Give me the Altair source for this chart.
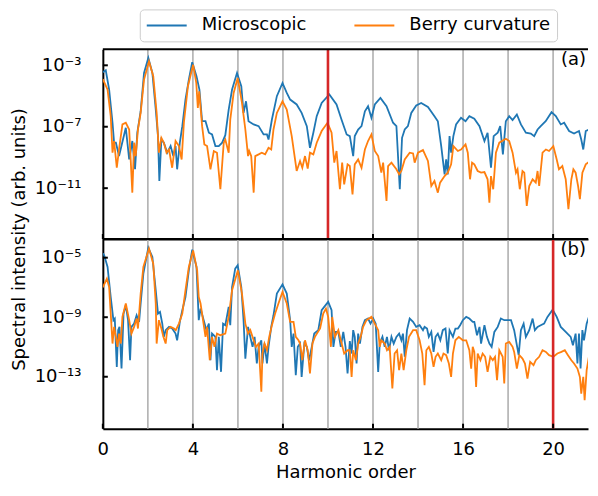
import altair as alt
import numpy as np
import pandas as pd

# ---------------- data (harmonic order, log10 of spectral intensity) ----------------
micro_a_h = [0.0,0.13,0.28,0.43,0.50,0.58,0.72,1.02,1.17,1.31,
             1.43,1.53,1.68,1.83,2.02,2.20,2.35,2.45,2.51,2.60,
             2.71,2.86,3.01,3.13,3.23,3.30,3.42,3.53,3.67,3.82,
             3.97,4.16,4.29,4.41,4.56,4.71,4.85,5.00,5.15,5.30,
             5.44,5.59,5.74,5.96,6.15,6.25,6.36,6.47,6.70,6.92,
             7.14,7.29,7.36,7.51,7.73,7.98,8.17,8.32,8.61,8.83,
             9.06,9.20,9.35,9.50,9.72,10.06,10.38,10.60,10.83,10.97,
             11.12,11.19,11.34,11.49,11.64,11.78,11.93,12.08,12.33,12.60,
             12.89,13.04,13.19,13.29,13.41,13.55,13.70,13.92,14.14,14.44,
             14.73,14.88,15.03,15.18,15.25,15.32,15.40,15.47,15.57,15.69,
             15.91,16.11,16.28,16.50,16.73,16.95,17.09,17.24,17.36,17.54,
             17.65,17.77,17.90,18.05,18.20,18.39,18.57,18.79,19.01,19.16,
             19.31,19.45,19.67,19.93,20.12,20.34,20.49,20.71,20.93,21.15,
             21.25,21.34,21.45,21.59,21.74,21.89,22.0]
micro_a_log = [-3.45,-3.32,-4.58,-6.74,-8.04,-8.04,-8.91,-7.07,-9.13,-7.93,
               -9.77,-7.39,-5.99,-3.50,-2.52,-3.50,-5.88,-7.61,-10.53,-7.83,
               -8.04,-8.69,-8.26,-8.91,-8.26,-9.77,-8.04,-6.96,-5.23,-3.93,
               -2.80,-3.71,-4.58,-6.64,-6.64,-7.39,-7.50,-8.26,-8.26,-8.04,
               -7.55,-5.88,-4.58,-3.50,-4.36,-6.10,-5.34,-6.64,-6.85,-6.96,
               -7.50,-7.50,-7.83,-6.53,-5.01,-4.15,-4.80,-5.23,-5.55,-6.10,
               -6.96,-8.37,-7.39,-6.31,-5.45,-4.90,-5.55,-6.53,-7.50,-7.61,
               -8.91,-7.61,-7.18,-6.96,-5.99,-5.66,-6.42,-5.55,-5.12,-5.66,
               -6.74,-6.96,-11.07,-7.72,-7.18,-6.96,-6.10,-5.62,-5.45,-5.71,
               -6.31,-6.64,-8.26,-10.10,-9.13,-10.10,-7.61,-8.69,-7.61,-6.85,
               -6.42,-6.64,-6.31,-6.48,-6.96,-7.93,-7.39,-9.67,-7.61,-7.39,
               -6.96,-8.80,-6.64,-6.31,-6.57,-6.20,-6.85,-7.39,-7.44,-7.61,
               -7.18,-6.96,-6.64,-6.05,-6.31,-6.85,-6.74,-7.28,-7.44,-7.28,
               -7.83,-8.48,-7.28,-7.18,-6.74,-6.96,-7.00]

berry_a_h = [0.0,0.21,0.35,0.43,0.50,0.62,0.72,0.87,1.02,1.17,
             1.31,1.39,1.46,1.56,1.68,1.83,2.05,2.24,2.39,2.49,
             2.60,2.71,2.83,2.94,3.08,3.23,3.38,3.50,3.60,3.78,
             4.01,4.15,4.22,4.28,4.41,4.51,4.63,4.78,4.93,5.07,
             5.22,5.37,5.44,5.59,5.66,5.81,5.99,6.18,6.33,6.45,
             6.50,6.59,6.70,6.77,6.92,7.06,7.21,7.36,7.48,7.58,
             7.73,7.98,8.17,8.39,8.61,8.76,8.86,8.98,9.10,9.20,
             9.35,9.50,9.72,9.98,10.16,10.28,10.38,10.53,10.63,10.72,
             10.87,10.97,11.09,11.19,11.34,11.49,11.64,11.78,11.93,12.08,
             12.23,12.37,12.45,12.60,12.67,12.82,13.04,13.16,13.26,13.41,
             13.63,13.78,13.85,14.00,14.22,14.44,14.59,14.73,14.88,14.98,
             15.18,15.32,15.47,15.57,15.77,15.91,16.11,16.21,16.31,16.40,
             16.50,16.65,16.80,16.95,17.09,17.17,17.24,17.34,17.46,17.61,
             17.90,18.05,18.20,18.35,18.42,18.52,18.64,18.72,18.83,18.94,
             19.09,19.23,19.31,19.38,19.53,19.68,19.82,20.01,20.16,20.26,
             20.41,20.56,20.68,20.81,20.90,21.00,21.11,21.19,21.30,21.45,
             21.64,21.74,21.89,22.0]
berry_a_log = [-3.90,-4.58,-6.31,-8.69,-7.93,-9.67,-8.48,-6.85,-6.74,-7.18,
               -11.29,-8.04,-8.91,-7.18,-6.10,-3.93,-2.74,-3.71,-6.10,-8.69,
               -7.72,-8.04,-8.69,-8.48,-9.67,-7.93,-8.26,-9.13,-6.74,-4.36,
               -2.96,-4.15,-5.77,-4.69,-6.96,-8.15,-8.26,-9.77,-8.58,-8.69,
               -11.07,-8.04,-7.83,-8.69,-6.53,-4.80,-3.82,-5.45,-7.18,-8.91,
               -8.58,-8.91,-11.29,-8.91,-8.80,-8.69,-8.80,-8.37,-8.48,-7.18,
               -6.10,-5.34,-5.88,-7.61,-9.88,-9.23,-9.67,-8.91,-9.73,-8.69,
               -8.80,-8.04,-7.28,-6.74,-7.39,-9.34,-8.58,-11.07,-9.34,-10.75,
               -9.45,-9.56,-11.40,-9.45,-9.13,-9.67,-8.48,-7.93,-7.50,-8.58,
               -8.91,-9.99,-9.34,-11.83,-9.56,-9.34,-9.77,-10.10,-9.88,-9.13,
               -8.69,-8.74,-9.34,-8.69,-8.52,-9.23,-10.86,-10.53,-11.29,-10.64,
               -10.21,-9.99,-9.45,-8.26,-8.58,-8.48,-8.15,-8.69,-10.42,-9.34,
               -9.45,-9.88,-9.99,-9.95,-10.42,-11.94,-10.21,-11.07,-8.69,-8.04,
               -7.78,-7.93,-8.69,-9.99,-9.77,-11.07,-9.88,-9.99,-12.16,-10.86,
               -10.42,-10.64,-9.88,-10.86,-8.69,-8.48,-8.58,-8.26,-9.13,-9.77,
               -9.56,-10.42,-12.37,-10.42,-9.77,-9.99,-10.86,-11.72,-9.99,-9.45,
               -9.23,-8.91,-9.34,-9.40]

micro_b_h = [0.0,0.06,0.21,0.35,0.47,0.53,0.62,0.68,0.74,0.83,
             0.92,1.02,1.12,1.21,1.27,1.39,1.50,1.61,1.68,1.80,
             2.02,2.20,2.35,2.45,2.54,2.64,2.71,2.79,2.94,3.08,
             3.23,3.30,3.42,3.53,3.67,3.82,3.97,4.16,4.26,4.34,
             4.48,4.60,4.71,4.78,4.85,5.00,5.07,5.15,5.25,5.34,
             5.44,5.59,5.66,5.74,5.88,5.99,6.15,6.25,6.33,6.45,
             6.55,6.65,6.74,6.84,6.92,7.04,7.09,7.18,7.29,7.36,
             7.48,7.58,7.73,7.98,8.17,8.32,8.39,8.47,8.57,8.66,
             8.76,8.83,8.95,9.06,9.16,9.28,9.39,9.57,9.72,10.01,
             10.16,10.24,10.34,10.46,10.57,10.68,10.78,10.87,10.97,11.05,
             11.12,11.19,11.27,11.34,11.42,11.53,11.64,11.78,11.89,12.01,
             12.12,12.23,12.30,12.42,12.52,12.62,12.71,12.82,12.92,13.04,
             13.16,13.26,13.33,13.41,13.51,13.63,13.78,13.92,14.07,14.22,
             14.29,14.40,14.48,14.59,14.69,14.78,14.88,14.99,15.10,15.22,
             15.32,15.40,15.55,15.66,15.77,15.87,15.99,16.14,16.28,16.43,
             16.50,16.62,16.73,16.80,16.95,17.06,17.17,17.27,17.39,17.54,
             17.68,17.83,17.98,18.13,18.27,18.47,18.57,18.69,18.79,18.94,
             19.09,19.19,19.31,19.45,19.60,19.75,19.98,20.16,20.34,20.56,
             20.78,20.88,21.00,21.08,21.15,21.22,21.30,21.37,21.49,21.59,
             21.74,21.89,22.0]
micro_b_log = [-4.70,-4.84,-5.62,-7.64,-9.20,-9.09,-12.34,-9.87,-9.65,-12.45,
               -8.76,-8.20,-9.20,-11.89,-9.65,-9.43,-8.87,-9.31,-8.08,-6.07,
               -4.33,-4.95,-7.19,-8.76,-8.64,-9.43,-10.32,-9.87,-9.65,-9.76,
               -10.10,-10.55,-9.31,-8.53,-7.64,-5.85,-4.46,-5.62,-9.20,-8.42,
               -9.20,-9.87,-9.43,-11.89,-10.10,-10.32,-12.56,-10.32,-12.67,-9.43,
               -9.54,-8.31,-9.54,-6.97,-5.74,-5.51,-6.97,-9.20,-11.78,-9.65,
               -10.32,-10.99,-10.32,-12.11,-10.99,-10.55,-12.11,-10.77,-12.11,-10.99,
               -9.65,-8.87,-7.41,-6.79,-7.41,-9.20,-10.99,-10.10,-12.89,-10.99,
               -10.77,-13.01,-10.77,-10.99,-11.89,-10.99,-10.10,-9.87,-8.53,-7.97,
               -8.53,-10.99,-9.99,-9.99,-10.99,-9.99,-10.99,-12.78,-10.60,-11.44,
               -9.87,-10.32,-12.11,-10.10,-10.77,-9.65,-9.20,-9.09,-9.43,-9.09,
               -9.43,-12.67,-10.77,-10.32,-10.99,-10.32,-11.22,-10.32,-10.77,-10.32,
               -10.10,-10.55,-10.10,-11.66,-9.87,-9.09,-9.31,-9.65,-9.54,-9.87,
               -9.65,-9.76,-10.32,-9.99,-11.33,-10.32,-10.10,-10.55,-9.87,-9.76,
               -11.44,-9.87,-10.32,-9.76,-9.76,-9.54,-9.20,-8.98,-9.09,-9.31,
               -9.31,-10.21,-9.65,-10.77,-9.54,-10.32,-10.77,-10.99,-9.99,-9.65,
               -9.09,-9.20,-9.20,-9.20,-9.87,-11.55,-9.87,-9.43,-10.32,-9.87,
               -9.09,-9.87,-9.65,-9.54,-9.43,-8.98,-8.49,-8.98,-9.65,-9.99,
               -10.32,-10.88,-10.10,-12.11,-10.10,-12.45,-9.87,-10.55,-9.43,-8.98,
               -8.87,-8.64,-8.50]

berry_b_h = [0.0,0.18,0.28,0.35,0.43,0.50,0.58,0.65,0.72,0.80,
             0.87,1.02,1.17,1.27,1.39,1.50,1.56,1.68,1.80,2.05,
             2.24,2.35,2.39,2.49,2.60,2.69,2.79,2.86,3.01,3.16,
             3.24,3.38,3.53,3.67,3.82,4.01,4.19,4.26,4.34,4.45,
             4.56,4.63,4.75,4.85,4.96,5.07,5.22,5.44,5.59,5.74,
             6.00,6.18,6.33,6.45,6.55,6.70,6.80,6.92,7.04,7.09,
             7.18,7.29,7.39,7.51,7.65,7.80,7.98,8.17,8.32,8.47,
             8.57,8.69,8.76,8.86,8.98,9.10,9.20,9.31,9.42,9.65,
             9.79,9.91,10.01,10.13,10.19,10.31,10.46,10.57,10.72,10.87,
             10.97,11.05,11.12,11.24,11.34,11.45,11.56,11.71,11.93,12.08,
             12.23,12.30,12.37,12.52,12.62,12.74,12.86,12.96,13.07,13.16,
             13.26,13.36,13.48,13.60,13.78,13.92,14.07,14.19,14.29,14.37,
             14.48,14.59,14.69,14.78,14.88,15.03,15.13,15.25,15.37,15.47,
             15.55,15.66,15.81,15.99,16.14,16.28,16.36,16.43,16.50,16.58,
             16.65,16.77,16.87,16.98,17.09,17.21,17.32,17.42,17.51,17.61,
             17.76,17.83,17.90,18.05,18.20,18.27,18.39,18.50,18.64,18.75,
             18.86,18.98,19.13,19.23,19.38,19.53,19.68,19.82,20.01,20.19,
             20.37,20.52,20.66,20.81,20.93,21.08,21.19,21.25,21.34,21.40,
             21.49,21.59,21.74,21.89,22.0]
berry_b_log = [-7.00,-6.41,-6.97,-8.76,-10.77,-9.65,-10.32,-10.99,-10.10,-10.77,
               -8.98,-8.08,-9.20,-10.10,-9.65,-9.09,-9.76,-7.41,-5.62,-4.39,
               -5.40,-8.08,-10.77,-9.20,-9.76,-10.32,-10.77,-9.87,-9.65,-9.76,
               -9.87,-9.43,-8.76,-7.19,-5.62,-4.51,-5.85,-7.64,-8.08,-9.20,
               -10.32,-9.65,-11.89,-10.32,-10.99,-10.10,-10.21,-10.10,-8.98,-7.19,
               -5.85,-7.41,-9.43,-10.10,-9.87,-10.55,-10.99,-10.77,-14.01,-11.44,
               -10.77,-11.22,-10.32,-9.54,-8.76,-8.08,-7.30,-8.08,-9.31,-9.31,
               -10.32,-10.55,-10.77,-11.89,-10.55,-11.22,-12.78,-10.77,-10.32,-9.76,
               -8.76,-8.42,-8.98,-10.99,-8.98,-10.32,-9.87,-10.55,-11.44,-11.22,
               -11.22,-13.01,-11.22,-11.89,-10.77,-10.32,-9.65,-9.20,-8.98,-9.43,
               -9.87,-10.99,-10.55,-10.77,-11.22,-10.99,-13.79,-11.44,-11.22,-12.56,
               -11.44,-12.56,-11.22,-10.32,-9.87,-9.87,-10.55,-11.44,-13.57,-11.22,
               -10.99,-11.44,-12.34,-11.66,-11.44,-11.89,-11.44,-11.55,-12.11,-13.01,
               -11.44,-10.55,-10.32,-10.55,-10.55,-11.22,-12.45,-10.99,-11.33,-13.68,
               -11.44,-11.89,-11.44,-11.66,-12.67,-11.66,-11.89,-11.66,-13.23,-11.22,
               -11.66,-13.45,-10.77,-10.66,-10.99,-11.33,-12.45,-11.55,-11.78,-12.11,
               -13.12,-12.00,-12.22,-11.89,-11.66,-11.22,-11.33,-11.55,-11.66,-11.44,
               -11.33,-11.22,-11.55,-11.89,-12.11,-12.45,-13.01,-14.13,-13.01,-14.57,
               -12.56,-11.66,-10.99,-10.88,-10.90]

series_names = ["Microscopic", "Berry curvature"]
series_colors = ["#1f77b4", "#ff7f0e"]
guide_orders = [2, 4, 6, 8, 10, 12, 14, 16, 18, 20]
x_ticks = [0, 4, 8, 12, 16, 20]
y_ticks_a = [-11, -7, -3]
y_ticks_b = [-13, -9, -5]

# ---------------- styling ----------------
W, H = 486, 190
X_MAX = 21.55
FONT = "DejaVu Sans"
FS = 18
SUP = str.maketrans("-0123456789", "\u207b\u2070\u00b9\u00b2\u00b3\u2074\u2075\u2076\u2077\u2078\u2079")


def label_expr(exps):
    parts = [f"datum.value < {10.0 ** (e + 0.5):.4e} ? '10{str(e).translate(SUP)}'" for e in sorted(exps)]
    return " : ".join(parts) + " : ''"


def frame(h, lg, name):
    return pd.DataFrame({"h": h, "I": 10.0 ** np.array(lg), "series": name})


cscale = alt.Scale(domain=series_names, range=series_colors)


def panel(mh, ml, bh, bl, lo, hi, tick_exps, red_x, tag, top):
    xscale = alt.Scale(domain=[0, X_MAX], nice=False, zero=False)
    yscale = alt.Scale(type="log", domain=[10.0 ** lo, 10.0 ** hi], nice=False)
    if top:
        xaxis = alt.Axis(labels=False, ticks=False, grid=False, title=None,
                         domainColor="black", domainWidth=2)
        yaxis = alt.Axis(values=[10.0 ** e for e in tick_exps], labelExpr=label_expr(tick_exps),
                         tickSize=0, labelPadding=22, labelFontSize=FS, labelColor="black",
                         domainColor="black", domainWidth=2, grid=False,
                         title="Spectral intensity (arb. units)", titleFontSize=FS,
                         titleFontWeight="normal", titleColor="black", titleAngle=270,
                         titleX=-74, titleY=H, titleAlign="center", titleBaseline="bottom")
        legend = alt.Legend(orient="none", legendX=37, legendY=-40, direction="horizontal",
                            title=None, symbolType="stroke", symbolSize=1600,
                            symbolStrokeWidth=2, clipHeight=20, labelFontSize=FS,
                            labelColor="black", labelOffset=14, columnPadding=46,
                            padding=6, fillColor="white", strokeColor="#cccccc",
                            cornerRadius=4)
    else:
        xaxis = alt.Axis(values=x_ticks, tickSize=0, labelPadding=12, labelFontSize=FS,
                         labelColor="black", domainColor="black", domainWidth=2, grid=False,
                         title="Harmonic order", titleFontSize=FS, titleFontWeight="normal",
                         titleColor="black", titlePadding=5, labelFlush=False)
        yaxis = alt.Axis(values=[10.0 ** e for e in tick_exps], labelExpr=label_expr(tick_exps),
                         tickSize=0, labelPadding=22, labelFontSize=FS, labelColor="black",
                         domainColor="black", domainWidth=2, grid=False, title=None)
        legend = None

    X = alt.X("h:Q", scale=xscale, axis=xaxis)
    Y = alt.Y("I:Q", scale=yscale, axis=yaxis)

    guides = alt.Chart(pd.DataFrame({"h": guide_orders})).mark_rule(
        color="#b0b0b0", strokeWidth=1.6).encode(x=X)
    micro = alt.Chart(frame(mh, ml, series_names[0])).mark_line(strokeWidth=1.8, clip=True).encode(
        x=X, y=Y, color=alt.Color("series:N", scale=cscale, legend=legend))
    berry = alt.Chart(frame(bh, bl, series_names[1])).mark_line(strokeWidth=1.8, clip=True).encode(
        x=X, y=Y, color=alt.Color("series:N", scale=cscale, legend=legend))
    red = alt.Chart(pd.DataFrame({"h": [red_x]})).mark_rule(
        color="#d62728", strokeWidth=2.6).encode(x=X)
    yt = alt.Chart(pd.DataFrame({"I": [10.0 ** e for e in tick_exps]})).mark_rule(
        color="black", strokeWidth=2).encode(y=Y, x=alt.value(0), x2=alt.value(5))
    xt = alt.Chart(pd.DataFrame({"h": x_ticks})).mark_rule(
        color="black", strokeWidth=2).encode(x=X, y=alt.value(H), y2=alt.value(H - 5))
    topline = alt.Chart(pd.DataFrame({"k": [0]})).mark_rule(
        color="black", strokeWidth=2).encode(x=alt.value(0), x2=alt.value(W), y=alt.value(0))
    label = alt.Chart(pd.DataFrame({"k": [0]})).mark_text(
        align="right", baseline="top", fontSize=FS, font=FONT, color="black").encode(
        x=alt.value(W - 2), y=alt.value(2), text=alt.value(tag))

    return alt.layer(guides, micro, berry, red, yt, xt, topline, label).properties(width=W, height=H)


top = panel(micro_a_h, micro_a_log, berry_a_h, berry_a_log, -14.31, -1.96, y_ticks_a, 10, "(a)", True)
bottom = panel(micro_b_h, micro_b_log, berry_b_h, berry_b_log, -16.49, -3.745, y_ticks_b, 20, "(b)", False)

chart = alt.vconcat(top, bottom, spacing=0, bounds="flush").resolve_scale(
    color="independent").properties(
    padding={"left": 2, "top": 0, "right": 0, "bottom": 0}
).configure_view(stroke="transparent").configure_axis(
    labelFont=FONT, titleFont=FONT).configure_legend(labelFont=FONT)

chart.save("out.html", embed_options={"renderer": "svg", "actions": False})
